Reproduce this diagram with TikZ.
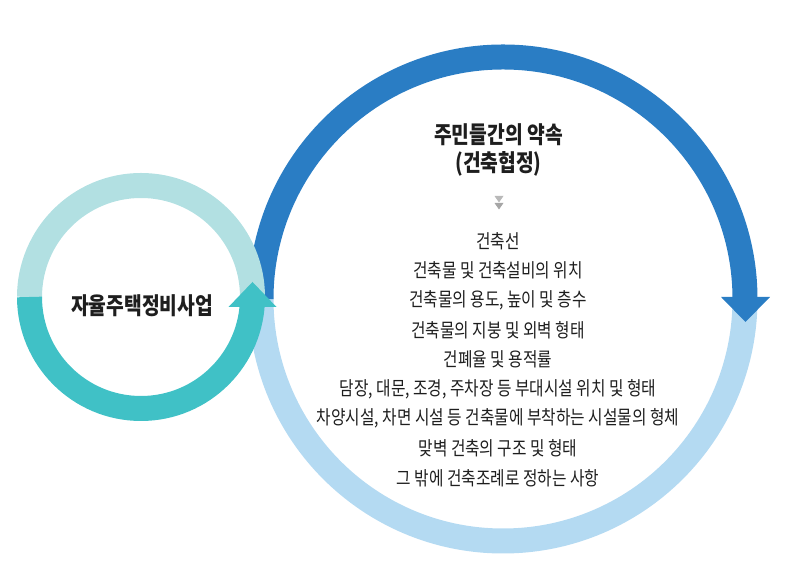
\documentclass[tikz,border=0pt]{standalone}
\usepackage{fontspec}
\usepackage{graphicx}
\newfontfamily\kr[FakeStretch=0.82]{Noto Sans CJK KR}
\definecolor{ringdark}{HTML}{2A7DC4}
\definecolor{ringlight}{HTML}{B4DAF2}
\definecolor{loopteal}{HTML}{40C1C6}
\definecolor{looplight}{HTML}{B2E0E2}
\definecolor{ink}{HTML}{1E1E1E}
\begin{document}
\begin{tikzpicture}[x=1pt,y=1pt,
    ring/.style={line width=25pt},
    item/.style={font=\kr\fontsize{19.2}{20}\selectfont,text=ink,inner sep=0pt},
    head/.style={font=\kr\bfseries\fontsize{23.5}{28}\selectfont,text=ink,align=center}]
    \useasboundingbox (0,0) rectangle (793,577);
    % big ring: agreement between residents
    \coordinate (bc) at (503,278);
    \draw[ring,ringlight] (bc) ++(180:242) arc[start angle=180,end angle=360,radius=242];
    \draw[ring,ringdark] (bc) ++(180:242) arc[start angle=180,end angle=0,radius=242];
    \fill[ringdark] (bc) ++(218,2) -- ++(49,0) -- ++(-24.5,-25) -- cycle;
    % small ring: self-initiated housing renewal
    \coordinate (sc) at (141,280);
    \draw[ring,looplight] (sc) ++(0:111.5) arc[start angle=0,end angle=180,radius=111.5];
    \draw[ring,loopteal] (sc) ++(180:111.5) arc[start angle=180,end angle=360,radius=111.5];
    \fill[loopteal] (sc) ++(87.5,-10) -- ++(48,0) -- ++(-24,25) -- cycle;
    \node[head] (job) at (142,271) {자율주택정비사업};
    \node[head] (pact) at (498.5,427) {주민들간의 약속\\(건축협정)};
    \fill[gray!55] (494.5,381) -- (503.5,381) -- (499,374.5) -- cycle;
    \fill[gray!70] (494.5,374) -- (503.5,374) -- (499,367.5) -- cycle;
    \foreach \txt [count=\n] in {건축선, 건축물 및 건축설비의 위치, {건축물의 용도, 높이 및 층수},
        건축물의 지붕 및 외벽 형태, 건폐율 및 용적률,
        {담장, 대문, 조경, 주차장 등 부대시설 위치 및 형태},
        {차양시설, 차면 시설 등 건축물에 부착하는 시설물의 형체},
        맞벽 건축의 구조 및 형태, 그 밖에 건축조례로 정하는 사항}
        \node[item] (i\n) at (498,{336-29.6*(\n-1)}) {\txt};
\end{tikzpicture}
\end{document}
